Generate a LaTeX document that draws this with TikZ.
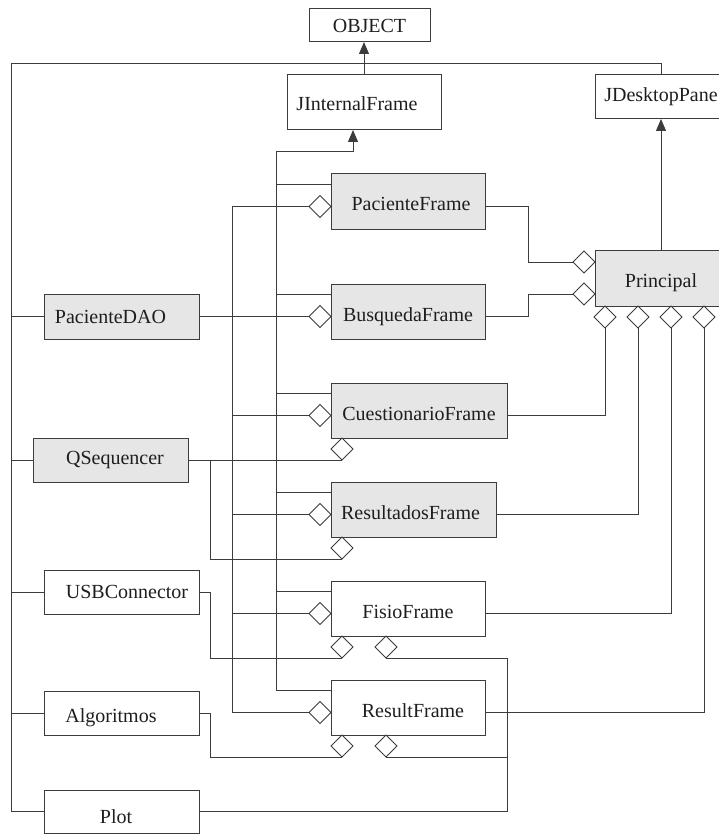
\documentclass[tikz,border=0pt]{standalone}
\usepackage{fontspec}
\setmainfont{Liberation Serif}
\usetikzlibrary{shapes.geometric,arrows.meta}
\definecolor{lc}{HTML}{3C3C3C}
\definecolor{boxgray}{HTML}{E6E6E6}
\definecolor{tc}{HTML}{1E1E1E}
\begin{document}
\begin{tikzpicture}[x=1pt,y=-1pt,
  line/.style={draw=lc, line width=1pt},
  box/.style 2 args={draw=lc, line width=1pt, rectangle, inner sep=0pt, outer sep=0pt,
    minimum width=#1, minimum height=#2, text=tc, font=\fontsize{20pt}{24pt}\selectfont},
  cls/.style 2 args={box={#1}{#2}, fill=white},
  act/.style 2 args={box={#1}{#2}, fill=boxgray},
  agg/.style={diamond, draw=lc, fill=white, line width=1pt, inner sep=0pt, outer sep=0pt,
    minimum width=22pt, minimum height=22pt, shape aspect=1},
  inh/.style={-{Triangle[length=12pt,width=10pt]}},
  tx/.style={execute at begin node={\hspace*{#1}}},
  low/.style={text height=#1, text depth=0pt}
]
\useasboundingbox (0,0) rectangle (719,834);
\clip (0,0) rectangle (719,834);

% classes
\node[cls={121pt}{33pt}] (obj) at (369.5,25.5) {OBJECT};
\node[cls={154pt}{55pt}, tx=-14pt, low=17pt] (jif) at (364,102.5) {JInternalFrame};
\node[cls={132pt}{44pt}] (jdp) at (661,97) {JDesktopPane};
\node[act={132pt}{56pt}, low=18pt] (prin) at (661,278) {Principal};

\node[act={154pt}{55pt}, tx=6pt, low=19pt] (pf) at (408,201.5) {PacienteFrame};
\node[act={154pt}{55pt}, low=19pt] (bf) at (408,311.5) {BusquedaFrame};
\node[act={176pt}{55pt}, low=19pt] (cf) at (419,410.5) {CuestionarioFrame};
\node[act={165pt}{55pt}, tx=-6pt, low=19pt] (rdf) at (413.5,509.5) {ResultadosFrame};
\node[cls={154pt}{55pt}, low=19pt] (ff) at (408,608.5) {FisioFrame};
\node[cls={154pt}{55pt}, tx=10pt, low=19pt] (rf) at (408,707.5) {ResultFrame};

\node[act={155pt}{45pt}, tx=-22pt] (dao) at (121.5,316.5) {PacienteDAO};
\node[act={155pt}{44pt}, tx=9pt] (qs) at (110.5,460) {QSequencer};
\node[cls={155pt}{44pt}, tx=11pt] (usb) at (121.5,592) {USBConnector};
\node[cls={155pt}{44pt}, tx=-21pt, low=18pt] (alg) at (121.5,713) {Algoritmos};
\node[cls={155pt}{43pt}, tx=-11pt, low=23pt] (plot) at (121.5,811.5) {Plot};

% aggregation diamonds
\foreach \f in {pf,bf,cf,rdf,ff,rf}
  \node[agg, anchor=east] (\f-l) at ([yshift=-5pt]\f.west) {};
\node[agg, anchor=north] (cf-b1) at ([xshift=11pt]cf.south west) {};
\node[agg, anchor=north] (rdf-b1) at ([xshift=11pt]rdf.south west) {};
\node[agg, anchor=north] (ff-b1) at ([xshift=11pt]ff.south west) {};
\node[agg, anchor=north] (ff-b2) at ([xshift=55pt]ff.south west) {};
\node[agg, anchor=north] (rf-b1) at ([xshift=11pt]rf.south west) {};
\node[agg, anchor=north] (rf-b2) at ([xshift=55pt]rf.south west) {};
\node[agg, anchor=east] (prin-l1) at ([yshift=-12pt]prin.north west) {};
\node[agg, anchor=east] (prin-l2) at ([yshift=-44pt]prin.north west) {};
\node[agg, anchor=north] (prin-b1) at ([xshift=10pt]prin.south west) {};
\node[agg, anchor=north] (prin-b2) at ([xshift=43pt]prin.south west) {};
\node[agg, anchor=north] (prin-b3) at ([xshift=76pt]prin.south west) {};
\node[agg, anchor=north] (prin-b4) at ([xshift=109pt]prin.south west) {};

% inheritance from OBJECT
\coordinate (ob) at (11,64);
\draw[line] (jdp.north) |- (ob) -- (ob |- plot.west) -- (plot.west);
\foreach \c in {dao,qs,usb,alg}
  \draw[line] (\c.west) -| (ob);
\draw[line,inh] (jif.north) -- (jif.north |- obj.south);

% inheritance from JInternalFrame
\coordinate (ib) at (276,152);
\coordinate (ja) at ([xshift=-11pt]jif.south);
\draw[line,inh] ([yshift=-10.5pt]rf.north west) -| (ib) -- (ja |- ib) -- (ja);
\foreach \f in {pf,bf,cf,rdf,ff}
  \draw[line] ([yshift=-10.5pt]\f.north west) -| (ib);

% inheritance from JDesktopPane
\draw[line,inh] (prin.north) -- (jdp.south);

% PacienteDAO aggregations
\coordinate (db) at ([xshift=-77pt]pf-l.west);
\draw[line] (pf-l.west) -- (db) -- (db |- rf-l.west) -- (rf-l.west);
\foreach \f in {cf,rdf,ff}
  \draw[line] (\f-l.west) -| (db);
\draw[line] (dao.east) -- (bf-l.west);

% QSequencer aggregations
\coordinate (qj) at ([xshift=22pt]qs.east);
\draw[line] (qs.east) -- (cf-b1.south);
\draw[line] (qj) |- (rdf-b1.south);

% USBConnector, Algoritmos, Plot
\draw[line] (usb.east) -- ++(11,0) |- (ff-b1.south);
\draw[line] (alg.east) -- ++(11,0) |- (rf-b1.south);
\draw[line] (plot.east) -| (cf.east |- ff-b2.south) -- (ff-b2.south);
\draw[line] (rf-b2.south) -- (rf-b2.south -| cf.east);

% frames aggregated by Principal
\draw[line] ([yshift=-5pt]pf.east) -- ++(43,0) |- (prin-l1.west);
\draw[line] ([yshift=-5pt]bf.east) -- ++(43,0) |- (prin-l2.west);
\draw[line] ([yshift=-5pt]cf.east) -| (prin-b1.south);
\draw[line] ([yshift=-5pt]rdf.east) -| (prin-b2.south);
\draw[line] ([yshift=-5pt]ff.east) -| (prin-b3.south);
\draw[line] ([yshift=-5pt]rf.east) -| (prin-b4.south);
\end{tikzpicture}
\end{document}
